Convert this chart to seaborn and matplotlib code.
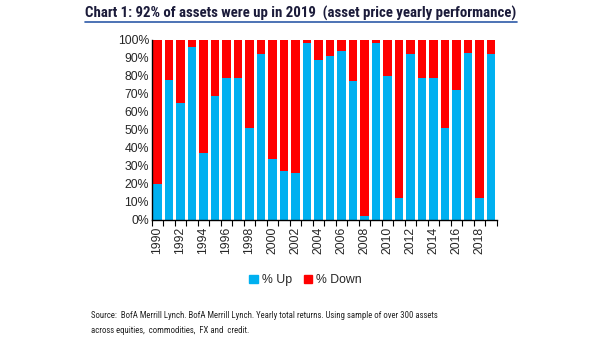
import matplotlib
matplotlib.use("Agg")
import matplotlib.pyplot as plt
import matplotlib.patches as mpatches
from matplotlib.lines import Line2D
import numpy as np
import pandas as pd
import seaborn as sns

# Share of assets with positive / negative yearly total return
years = list(range(1990, 2020))
pct_up = [20, 78, 65, 96, 37, 69, 79, 79, 51, 92,
          34, 27, 26, 98, 89, 91, 94, 77, 2, 98,
          80, 12, 92, 79, 79, 51, 72, 93, 12, 92]
pct_down = [100 - u for u in pct_up]

title_text = "Chart 1: 92% of assets were up in 2019  (asset price yearly performance)"
source_text = ("Source:  BofA Merrill Lynch. BofA Merrill Lynch. Yearly total returns. Using sample of over 300 assets\n"
               "across equities,  commodities,  FX and  credit.")

BLUE = "#00B0F0"
RED = "#FF0000"

sns.set_theme(style="white")
plt.rcParams["font.family"] = ["Liberation Sans", "DejaVu Sans"]

df = pd.DataFrame({"year": [str(y) for y in years], "up": pct_up, "down": pct_down})
df["total"] = df["up"] + df["down"]

fig = plt.figure(figsize=(6.05, 3.41), dpi=100)
ax = fig.add_axes([0.251, 0.355, 0.570, 0.528])

sns.barplot(data=df, x="year", y="total", color=RED, width=0.74,
            saturation=1, ax=ax, edgecolor="none")
sns.barplot(data=df, x="year", y="up", color=BLUE, width=0.74,
            saturation=1, ax=ax, edgecolor="none")

ax.set_xlim(-0.5, len(years) - 0.5)
ax.set_ylim(0, 100)
ax.set_xlabel("")
ax.set_ylabel("")

ax.set_yticks(np.arange(0, 101, 10))
ax.set_yticklabels([f"{v}%" for v in range(0, 101, 10)], fontsize=8.8)
ax.tick_params(axis="y", length=0, pad=2)

idx = np.arange(0, len(years), 2)
ax.set_xticks(idx)
ax.set_xticklabels([str(years[i]) for i in idx], rotation=90, fontsize=8.8)
ax.tick_params(axis="x", which="major", length=0, pad=5)
ax.set_xticks(np.arange(-0.5, len(years), 1), minor=True)
ax.tick_params(axis="x", which="minor", length=4, width=0.8, color="black", bottom=True)

for s in ["top", "right"]:
    ax.spines[s].set_visible(False)
for s in ["left", "bottom"]:
    ax.spines[s].set_color("black")
    ax.spines[s].set_linewidth(1.0)

handles = [mpatches.Patch(color=BLUE, label="% Up"),
           mpatches.Patch(color=RED, label="% Down")]
fig.legend(handles=handles, loc="center", bbox_to_anchor=(0.505, 0.178), ncol=2,
           frameon=False, fontsize=8.8, handlelength=0.7, handleheight=0.7,
           handletextpad=0.3, columnspacing=1.0)

renderer = fig.canvas.get_renderer()


def fit_width(txt, target_px):
    """Shrink a text's font size so that it spans target_px pixels."""
    w = txt.get_window_extent(renderer=renderer).width
    txt.set_fontsize(txt.get_fontsize() * target_px / w)


title = fig.text(0.141, 0.960, title_text, fontsize=11, fontweight="bold", color="#1b1b3a",
                 family=["Roboto Condensed", "Liberation Sans Narrow", "DejaVu Sans"],
                 fontstretch="condensed", va="center", ha="left")
fit_width(title, 432)
fig.add_artist(Line2D([0.141, 0.855], [0.935, 0.935], color="#2e5aa8", lw=1.2,
                      transform=fig.transFigure))

source = fig.text(0.151, 0.018, source_text, fontsize=7, color="#222222", va="bottom",
                  ha="left", family=["Roboto Condensed", "Liberation Sans Narrow", "DejaVu Sans"],
                  linespacing=1.9)
fit_width(source, 351)

fig.savefig("out.png", dpi=100, facecolor="white")
